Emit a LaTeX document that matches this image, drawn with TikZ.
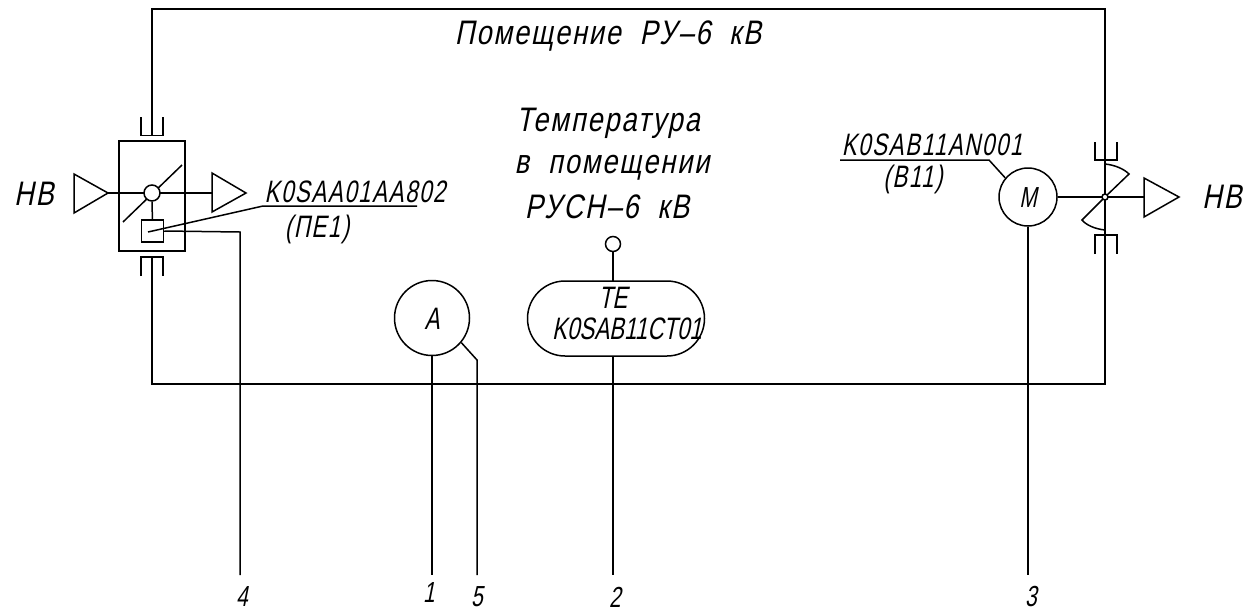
\documentclass[tikz,border=0pt]{standalone}
\usepackage{fontspec}
\newfontfamily\cadfont[FakeStretch=0.72,FakeSlant=0.2]{Liberation Sans}
\newfontfamily\cadtag[FakeStretch=0.72,FakeSlant=0.2,LetterSpace=5]{Liberation Sans}
\newfontfamily\cadwide[FakeStretch=0.8,FakeSlant=0.2,LetterSpace=5.5]{Liberation Sans}
\usetikzlibrary{calc,positioning,shapes.misc}

\tikzset{
    wire/.style={line width=1.5pt, line join=miter},
    lbl/.style={font=\cadwide\fontsize{34}{34}\selectfont, inner sep=0pt, anchor=center},
    tagtxt/.style={font=\cadtag\fontsize{31}{31}\selectfont, inner sep=0pt, anchor=center},
    captxt/.style={font=\cadfont\fontsize{31}{31}\selectfont, inner sep=0pt, anchor=center},
    small/.style={font=\cadfont\fontsize{29}{29}\selectfont, inner sep=0pt, anchor=center},
    ring/.style={circle, draw, line width=1.5pt, inner sep=0pt, fill=white},
}

\begin{document}
\begin{tikzpicture}[x=1pt, y=-1pt, wire]
    \useasboundingbox (0,0) rectangle (1247,614);
    % room outline
    \coordinate (tl) at (152,9);
    \coordinate (tr) at (1105,9);
    \coordinate (bl) at (152,384);
    \coordinate (br) at (1105,384);
    \draw (152,117) coordinate (dampertop) -- (tl) -- (tr) -- (br) -- (bl) -- (152,257) coordinate (damperbot);
    % left damper
    \node[draw, wire, minimum width=66pt, minimum height=110pt, inner sep=0pt] (damper) at (152,196) {};
    \draw (141,117) -- (141,135.5) -- (163,135.5) -- (163,117);
    \draw (152,117) -- (152,135.5);
    \draw (141,276) -- (141,257) -- (163,257) -- (163,276);
    \coordinate (inL) at (108,193);
    \coordinate (outL) at (212,193);
    \draw (inL) -- (outL);
    \draw (74,174) -- (inL) -- (74,213) -- cycle;
    \draw (outL) -- (212,173) -- (246,193) -- (212,212) -- cycle;
    \draw (123,222) -- (182,165);
    \node[ring, minimum size=16pt] (hub) at (152,193) {};
    \node[draw, wire, minimum size=22pt, inner sep=0pt] (act) at (152.5,231) {};
    \draw (hub) -- (act);
    \coordinate (tagL) at (263,206);
    \draw (148,232) -- (tagL) -- (417,206);
    \coordinate (down4) at (240,232);
    \draw (act.east) -- (down4) -- (240,575);
    \node[tagtxt] (tagLtxt) at (355,191.5) {K0SAA01AA802};
    \node[tagtxt] (tagLsub) at (317,229) {(ПЕ1)};
    % ammeter
    \node[ring, minimum size=75pt] (amm) at (432,318) {};
    \node[captxt] at (432,319) {A};
    \draw (amm.south) -- (432,575);
    \draw (amm.-40) -- (477,360) -- (477,575);
    % temperature sensor
    \node[rounded rectangle, draw, wire, fill=white, minimum width=177pt, minimum height=75pt, inner sep=0pt] (cap) at (616,318.5) {};
    \coordinate (capN) at (613,281);
    \coordinate (capS) at (613,356);
    \node[ring, minimum size=15pt] (probe) at (613,244) {};
    \draw (probe) -- (capN);
    \draw (capS) -- (613,575);
    \node[captxt] at (613,298) {TE};
    \node[captxt] at (627,329) {K0SAB11CT01};
    % motor
    \node[ring, minimum size=58pt] (motor) at (1028,197) {};
    \node[small] at (1028,198) {M};
    \draw (motor.south) -- (1028,575);
    \coordinate (tagM) at (989,160);
    \draw (motor.140) -- (tagM) -- (840,160);
    \node[tagtxt] (tagMtxt) at (932,144.5) {K0SAB11AN001};
    \node[tagtxt] (tagMsub) at (913,179) {(В11)};
    % right fan
    \draw (1095,142) -- (1095,160) -- (1117,160) -- (1117,142);
    \draw (1095,254) -- (1095,235) -- (1117,235) -- (1117,254);
    \coordinate (fan) at (1105,197);
    \draw (1105,164) .. controls (1115,165) and (1124,169) .. (1129,174) -- (fan);
    \draw (1105,230) .. controls (1095,229) and (1086,225) .. (1082,220) -- (fan);
    \draw (motor) -- (1144,197);
    \draw (1144,178) -- (1179,197) -- (1144,217) -- cycle;
    \node[ring, minimum size=6pt] (axle) at (fan) {};
    % texts
    \node[lbl] at (608,36) {Помещение\ \ РУ–6\ \ кВ};
    \node[lbl] at (608,123) {Температура};
    \node[lbl] at (612,168) {в\ \ помещении};
    \node[lbl] at (607,207) {РУСН–6\ \ кВ};
    \node[lbl] at (34,194) {НВ};
    \node[lbl] at (1222,197) {НВ};
    \node[small] at (242,597) {4};
    \node[small] at (429,593) {1};
    \node[small] at (477,597) {5};
    \node[small] at (615,597) {2};
    \node[small] at (1031,597) {3};
\end{tikzpicture}
\end{document}
